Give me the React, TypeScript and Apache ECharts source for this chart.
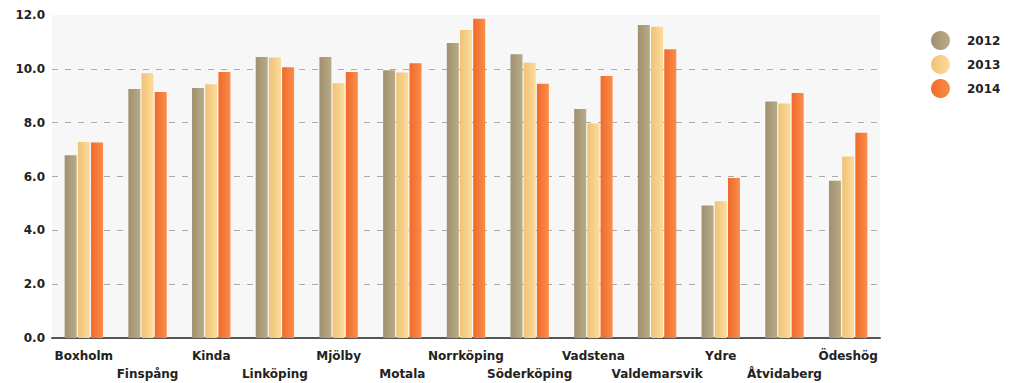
import React, { useEffect, useRef } from "react";
import * as echarts from "echarts";

const categories = [
  "Boxholm", "Finspång", "Kinda", "Linköping", "Mjölby", "Motala", "Norrköping",
  "Söderköping", "Vadstena", "Valdemarsvik", "Ydre", "Åtvidaberg", "Ödeshög",
];
const seriesNames = ["2012", "2013", "2014"];
const values2012 = [6.79, 9.25, 9.29, 10.44, 10.44, 9.95, 10.96, 10.54, 8.51, 11.63, 4.92, 8.79, 5.84];
const values2013 = [7.28, 9.84, 9.43, 10.42, 9.46, 9.86, 11.44, 10.23, 7.97, 11.56, 5.08, 8.71, 6.74];
const values2014 = [7.26, 9.14, 9.88, 10.06, 9.88, 10.21, 11.86, 9.45, 9.73, 10.73, 5.94, 9.10, 7.63];
const yTicks = { min: 0, max: 12, interval: 2 };

const gradients = [
  ["#9f9170", "#b9ab86"],
  ["#f0c275", "#fcdc9c"],
  ["#f06a2a", "#fa8d4a"],
];

export default function App() {
  const ref = useRef<HTMLDivElement>(null);
  useEffect(() => {
    if (!ref.current) return;
    const chart = echarts.init(ref.current, null, { renderer: "svg" });
    const data = [values2012, values2013, values2014];
    const font = "'DejaVu Sans', Verdana, sans-serif";
    chart.setOption({
      animation: false,
      textStyle: { fontFamily: font },
      legend: {
        orient: "vertical",
        left: 926,
        top: 26,
        itemWidth: 19,
        itemHeight: 19,
        itemGap: 5,
        icon: "circle",
        textStyle: {
          fontSize: 12,
          fontWeight: "bold",
          color: "#222",
          fontFamily: font,
          padding: [0, 0, 0, 12],
        },
        data: seriesNames,
      },
      grid: {
        left: 52,
        right: 143,
        top: 15,
        bottom: 43,
        show: true,
        backgroundColor: "#f7f7f7",
        borderWidth: 0,
      },
      xAxis: {
        type: "category",
        data: categories,
        axisLine: { lineStyle: { color: "#555", width: 2 } },
        axisTick: { alignWithLabel: true, length: 5, lineStyle: { color: "#555", width: 2 } },
        axisLabel: {
          interval: 0,
          margin: 9,
          fontSize: 12,
          fontWeight: "bold",
          color: "#222",
          fontFamily: font,
          lineHeight: 18,
          formatter: (v: string, i: number) => (i % 2 === 1 ? "\n" + v : v),
        },
      },
      yAxis: {
        type: "value",
        min: yTicks.min,
        max: yTicks.max,
        interval: yTicks.interval,
        axisLine: { show: false },
        axisTick: { show: false },
        axisLabel: {
          margin: 7,
          fontSize: 12,
          fontWeight: "bold",
          color: "#222",
          fontFamily: font,
          formatter: (v: number) => v.toFixed(1),
        },
        splitLine: {
          show: true,
          showMinLine: false,
          showMaxLine: false,
          lineStyle: { color: "#aaaaaa", type: [6, 7], width: 1 },
        },
      },
      series: seriesNames.map((name, k) => ({
        name,
        type: "bar",
        data: data[k],
        barWidth: 12,
        barGap: "10%",
        itemStyle: {
          color: new echarts.graphic.LinearGradient(0, 0, 1, 0, [
            { offset: 0, color: gradients[k][0] },
            { offset: 1, color: gradients[k][1] },
          ]),
        },
      })),
    });
    return () => chart.dispose();
  }, []);
  return <div ref={ref} style={{ width: 1023, height: 383, position: "absolute", left: 0, top: 0 }} />;
}
